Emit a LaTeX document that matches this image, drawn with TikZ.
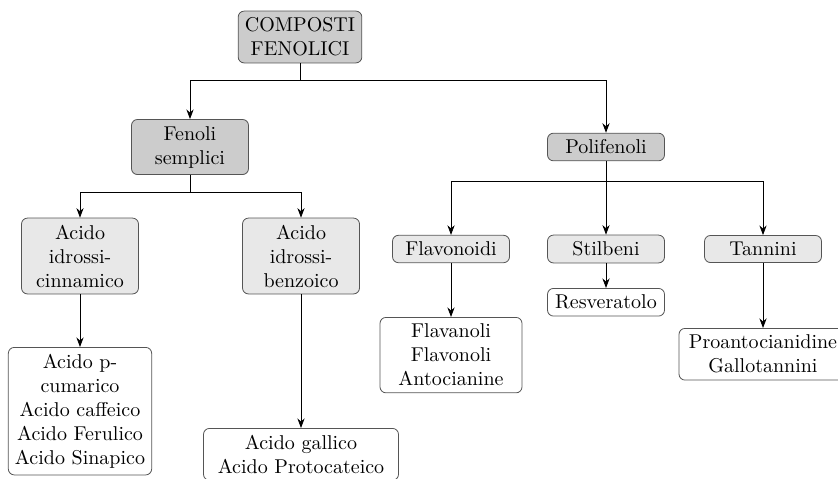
\documentclass[tikz,border=0pt]{standalone}
\usepackage{xcolor}
\usepackage{tikz}
\usetikzlibrary{arrows.meta, positioning}
\definecolor{darkgray}{HTML}{CCCCCC}
\definecolor{lightgray}{HTML}{E8E8E8}
\definecolor{edgegray}{HTML}{555555}

\begin{document}
\begin{tikzpicture}[>=Stealth, x=0.5pt, y=-0.5pt, font=\normalsize,
  box/.style={draw=edgegray, rounded corners=3pt, align=center, minimum width=58.5pt},
  darkbox/.style={box, fill=darkgray},
  lightbox/.style={box, fill=lightgray},
  whitebox/.style={box, fill=white}]
  \useasboundingbox (0,0) rectangle (838,478);

  % Blocchi
  \node[darkbox, minimum width=57pt] (root) at (300,37) {COMPOSTI\\FENOLICI};
  \node[darkbox] (fen) at (190,147) {Fenoli\\semplici};
  \node[darkbox] (poli) at (606,147) {Polifenoli};

  \node[lightbox] (cinn) at (80,256) {Acido\\idrossi-\\cinnamico};
  \node[lightbox] (benz) at (301,256) {Acido\\idrossi-\\benzoico};
  \node[lightbox] (flav) at (451,249) {Flavonoidi};
  \node[lightbox] (stil) at (606,249) {Stilbeni};
  \node[lightbox] (tann) at (763,249) {Tannini};

  \node[whitebox, anchor=north, minimum width=71.5pt] (cinnlist) at (80,347) {Acido p-\\cumarico\\Acido caffeico\\Acido Ferulico\\Acido Sinapico};
  \node[whitebox, anchor=north, minimum width=97.5pt] (benzlist) at (301,428) {Acido gallico\\Acido Protocateico};
  \node[whitebox, anchor=north, minimum width=71pt] (flavlist) at (451,317) {Flavanoli\\Flavonoli\\Antocianine};
  \node[whitebox, anchor=north] (resv) at (606,288) {Resveratolo};
  \node[whitebox, anchor=north, minimum width=84pt] (tannlist) at (763,328) {Proantocianidine\\Gallotannini};

  % Frecce
  \draw[->] (root.south) -- ++(0,17) -| (fen.north);
  \draw[->] (root.south) -- ++(0,17) -| (poli.north);
  \draw[->] (fen.south) -- ++(0,17) -| (cinn.north);
  \draw[->] (fen.south) -- ++(0,17) -| (benz.north);
  \draw[->] (poli.south) -- ++(0,20) -| (flav.north);
  \draw[->] (poli.south) -- (stil.north);
  \draw[->] (poli.south) -- ++(0,20) -| (tann.north);

  \draw[->] (cinn.south) -- (cinnlist.north);
  \draw[->] (benz.south) -- (benzlist.north);
  \draw[->] (flav.south) -- (flavlist.north);
  \draw[->] (stil.south) -- (resv.north);
  \draw[->] (tann.south) -- (tannlist.north);
\end{tikzpicture}
\end{document}
